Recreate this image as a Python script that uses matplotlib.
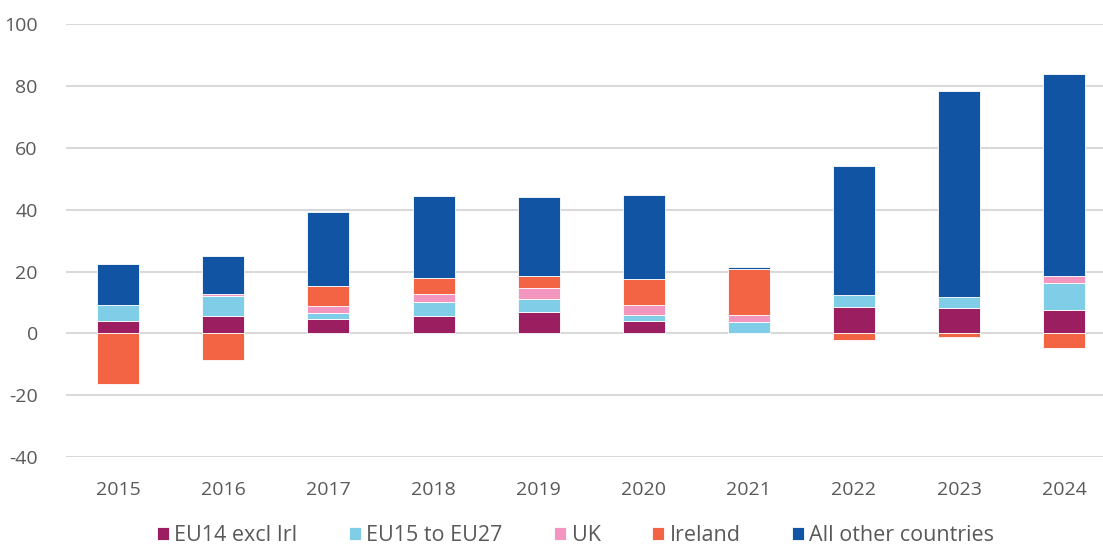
import matplotlib
matplotlib.use("Agg")
import matplotlib.pyplot as plt
import numpy as np

years = ["2015", "2016", "2017", "2018", "2019", "2020", "2021", "2022", "2023", "2024"]
eu14 = [4.1, 5.6, 4.6, 5.5, 7.0, 4.1, 0.2, 8.5, 8.1, 7.7]
eu15_27 = [5.2, 6.6, 1.9, 4.8, 4.1, 2.0, 3.6, 3.9, 3.6, 8.5]
uk = [0.0, 0.5, 2.5, 2.5, 3.6, 3.0, 2.1, 0.0, 0.0, 2.5]
ireland = [-16.4, -8.5, 6.2, 5.2, 3.7, 8.5, 14.9, -2.3, -1.2, -4.6]
other = [13.0, 12.2, 23.9, 26.4, 25.6, 27.3, 0.7, 41.7, 66.6, 65.2]

series = [
    ("EU14 excl Irl", eu14, "#9B1F60"),
    ("EU15 to EU27", eu15_27, "#7FCDE6"),
    ("UK", uk, "#F296C0"),
    ("Ireland", ireland, "#F26444"),
    ("All other countries", other, "#1254A4"),
]

plt.rcParams['font.family'] = ['Open Sans', 'DejaVu Sans']
plt.rcParams['axes.unicode_minus'] = False
fig = plt.figure(figsize=(11.03, 5.5), dpi=100)
ax = fig.add_axes([0.0595, 0.169, 0.953, 0.787])

x = np.arange(len(years))
pos_bottom = np.zeros(len(years))
neg_bottom = np.zeros(len(years))
handles = []
for name, vals, col in series:
    v = np.array(vals, dtype=float)
    bottoms = np.where(v >= 0, pos_bottom, neg_bottom)
    b = ax.bar(x, v, width=0.4, bottom=bottoms, color=col, edgecolor="#ffffff",
               linewidth=0.6, label=name, zorder=3)
    handles.append(b)
    pos_bottom = pos_bottom + np.where(v >= 0, v, 0)
    neg_bottom = neg_bottom + np.where(v < 0, v, 0)

ax.set_ylim(-40, 100)
ax.set_xlim(-0.5, len(years) - 0.5)
ax.set_yticks(range(-40, 101, 20))
ax.set_xticks(x)
ax.set_xticklabels(years)
ax.yaxis.grid(True, color="#D9D9D9", linewidth=1.5, zorder=0)
ax.set_axisbelow(True)
for s in ax.spines.values():
    s.set_visible(False)
ax.tick_params(axis="both", length=0, colors="#595959", labelsize=14)
ax.tick_params(axis="x", pad=17)
ax.tick_params(axis="y", pad=20)

leg = fig.legend(handles=handles, loc="lower center", bbox_to_anchor=(0.522, -0.028),
                 ncol=5, frameon=False, fontsize=15.5, handlelength=0.55,
                 handleheight=0.55, handletextpad=0.25, columnspacing=2.4,
                 labelcolor="#595959")

fig.savefig("out.png", dpi=100)
